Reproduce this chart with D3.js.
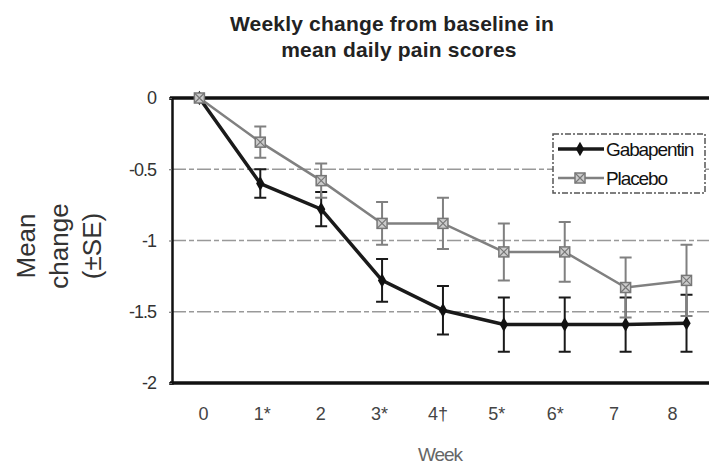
<!DOCTYPE html>
<html>
<head>
<meta charset="utf-8">
<script src="https://cdn.jsdelivr.net/npm/d3@7"></script>
<style>
  body { margin: 0; background: #fff; }
  svg { font-family: "Liberation Sans", Arial, sans-serif; }
</style>
</head>
<body>
<div id="container"></div>
<script>
const weeks = [0, 1, 2, 3, 4, 5, 6, 7, 8];
const weekLabels = ["0", "1*", "2", "3*", "4\u2020", "5*", "6*", "7", "8"];
const gabaMean = [0, -0.6, -0.78, -1.28, -1.49, -1.59, -1.59, -1.59, -1.58];
const gabaSE = [0, 0.1, 0.12, 0.15, 0.17, 0.19, 0.19, 0.19, 0.2];
const placeboMean = [0, -0.31, -0.58, -0.88, -0.88, -1.08, -1.08, -1.33, -1.28];
const placeboSE = [0, 0.11, 0.12, 0.15, 0.18, 0.2, 0.21, 0.21, 0.25];
const yTicks = [0, -0.5, -1, -1.5, -2];

const width = 709, height = 465;
const plot = { left: 172, top: 98, bottom: 383, right: 720 };

const svg = d3.select("#container").append("svg")
  .attr("width", width)
  .attr("height", height);

const x = d3.scaleLinear().domain([-0.45, 8.55]).range([plot.left, plot.right]);
const xLabel = d3.scaleLinear().domain([0, 8]).range([203, 672]);
const y = d3.scaleLinear().domain([-2, 0]).range([plot.bottom, plot.top]);

// title
const title = svg.append("text")
  .attr("text-anchor", "middle")
  .style("font-weight", "bold")
  .style("font-size", "21px")
  .style("letter-spacing", "0.2px")
  .style("fill", "#222");
title.append("tspan").attr("x", 392).attr("y", 31).text("Weekly change from baseline in");
title.append("tspan").attr("x", 399).attr("y", 57).text("mean daily pain scores");

// gridlines
svg.append("g")
  .selectAll("line")
  .data([-0.5, -1, -1.5])
  .join("line")
  .attr("x1", plot.left)
  .attr("x2", width)
  .attr("y1", d => y(d))
  .attr("y2", d => y(d))
  .attr("stroke", "#999")
  .attr("stroke-width", 1.5)
  .attr("stroke-dasharray", "14 3 5 3");

// top and bottom borders
svg.append("g")
  .selectAll("line")
  .data([0, -2])
  .join("line")
  .attr("x1", plot.left - 2)
  .attr("x2", width)
  .attr("y1", d => y(d))
  .attr("y2", d => y(d))
  .attr("stroke", "#111")
  .attr("stroke-width", 3.5);

// y axis
const yAxis = svg.append("g")
  .attr("transform", `translate(${plot.left},0)`)
  .call(d3.axisLeft(y).tickValues(yTicks).tickFormat(d => String(d)).tickSize(3).tickPadding(13));
yAxis.select(".domain").attr("stroke", "#111").attr("stroke-width", 2.5);
yAxis.selectAll(".tick line").attr("stroke", "#666");
yAxis.selectAll("text")
  .style("font-size", "18px")
  .style("fill", "#333")
  .style("letter-spacing", "-1px");

// x axis
const xAxis = svg.append("g")
  .attr("transform", `translate(0,${plot.bottom})`)
  .call(d3.axisBottom(xLabel).tickValues(weeks).tickFormat((d, i) => weekLabels[i]).tickSize(0).tickPadding(24));
xAxis.select(".domain").remove();
xAxis.selectAll("text")
  .style("font-size", "18px")
  .style("fill", "#444");

svg.append("text")
  .attr("x", 440)
  .attr("y", 461)
  .attr("text-anchor", "middle")
  .style("font-size", "19px")
  .style("fill", "#666")
  .style("letter-spacing", "-1px")
  .text("Week");

// y axis title
const yTitle = svg.append("text")
  .attr("transform", "translate(0,246) rotate(-90)")
  .attr("text-anchor", "middle")
  .style("font-size", "26px")
  .style("fill", "#333");
["Mean", "change", "(\u00b1SE)"].forEach((t, i) => {
  yTitle.append("tspan").attr("x", 0).attr("y", 35 + i * 33).text(t);
});

function drawSeries(means, ses, color, lineWidth, barWidth) {
  const g = svg.append("g");
  g.selectAll(".err")
    .data(weeks.filter((w, i) => ses[i] > 0))
    .join("path")
    .attr("d", w => {
      const cx = x(w), t = y(means[w] + ses[w]), b = y(means[w] - ses[w]);
      return `M${cx - 6},${t}H${cx + 6}M${cx},${t}V${b}M${cx - 6},${b}H${cx + 6}`;
    })
    .attr("fill", "none")
    .attr("stroke", color)
    .attr("stroke-width", barWidth);
  g.append("path")
    .datum(weeks)
    .attr("d", d3.line().x(w => x(w)).y(w => y(means[w])))
    .attr("fill", "none")
    .attr("stroke", color)
    .attr("stroke-width", lineWidth);
  return g;
}

function diamond(g, cx, cy) {
  g.append("path")
    .attr("d", d3.symbol(d3.symbolDiamond, 60)())
    .attr("transform", `translate(${cx},${cy})`)
    .attr("fill", "#111");
}

function boxX(g, cx, cy) {
  g.append("rect")
    .attr("x", cx - 5).attr("y", cy - 5)
    .attr("width", 10).attr("height", 10)
    .attr("fill", "#ccc")
    .attr("stroke", "#777")
    .attr("stroke-width", 1.5);
  g.append("path")
    .attr("d", `M${cx - 5},${cy - 5}L${cx + 5},${cy + 5}M${cx + 5},${cy - 5}L${cx - 5},${cy + 5}`)
    .attr("stroke", "#777")
    .attr("stroke-width", 1.2);
}

const gGaba = drawSeries(gabaMean, gabaSE, "#1a1a1a", 3.5, 2);
weeks.forEach(w => diamond(gGaba, x(w), y(gabaMean[w])));

const gPlac = drawSeries(placeboMean, placeboSE, "#808080", 2.5, 2);
weeks.forEach(w => boxX(gPlac, x(w), y(placeboMean[w])));

// legend
const legend = svg.append("g");
legend.append("rect")
  .attr("x", 553).attr("y", 134)
  .attr("width", 152).attr("height", 59)
  .attr("fill", "#fff")
  .attr("stroke", "#555")
  .attr("stroke-width", 1.5)
  .attr("stroke-dasharray", "6 2 2 2");
legend.append("line")
  .attr("x1", 558).attr("x2", 604).attr("y1", 149).attr("y2", 149)
  .attr("stroke", "#1a1a1a").attr("stroke-width", 3.5);
diamond(legend, 580, 149);
legend.append("line")
  .attr("x1", 558).attr("x2", 604).attr("y1", 178).attr("y2", 178)
  .attr("stroke", "#808080").attr("stroke-width", 2.5);
boxX(legend, 580, 178);
legend.selectAll(".lt")
  .data(["Gabapentin", "Placebo"])
  .join("text")
  .attr("x", 606)
  .attr("y", (d, i) => 156 + i * 29)
  .style("font-size", "19px")
  .style("letter-spacing", "-1.1px")
  .style("fill", "#111")
  .text(d => d);
</script>
</body>
</html>
